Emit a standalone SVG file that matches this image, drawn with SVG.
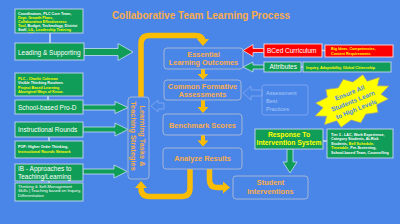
<svg xmlns="http://www.w3.org/2000/svg" width="400" height="224" viewBox="0 0 400 224">
<style>
text{font-family:"Liberation Sans",Arial,sans-serif}
.gbox{fill:#0f9d58;stroke:#b9cdeb;stroke-width:1}
.rbox{fill:#ff0000;stroke:#f4cccc;stroke-width:1}
.cbox{fill:none;stroke:#a3b5d3;stroke-width:1}
.ot{font-weight:bold;font-size:7.4px;fill:#fbad4c;text-anchor:middle}
.lbl{font-size:6.5px;fill:#fff}
.det{font-weight:bold;font-size:3.7px;fill:#fff}
.y{fill:#ffff00}
.w{fill:#fff}
.loop{fill:none;stroke:#fbbc04;stroke-width:5.5}
.oh{fill:#fbbc04}
.ga{fill:#0f9d58;stroke:#c9dcf5;stroke-width:0.8}
.ra{fill:#ff0000;stroke:#fde0e0;stroke-width:0.8}
.link{stroke:#cfe2f3;stroke-width:1.5}
.faint{fill:none;stroke:#86aaf0;stroke-width:0.8}
</style>
<rect width="400" height="224" fill="#4a86e8"/>
<text x="201" y="19" font-size="10" font-weight="bold" fill="#fbad4c" text-anchor="middle">Collaborative Team Learning Process</text>

<g id="connectors">
  <line class="link" x1="50" y1="33" x2="50" y2="43"/>
  <line class="link" x1="48" y1="96" x2="48" y2="100"/>
  <line class="link" x1="49" y1="137" x2="49" y2="141"/>
  <line class="link" x1="49" y1="181" x2="49" y2="183"/>
  <line class="link" x1="322" y1="50.5" x2="325" y2="50.5"/>
  <line class="link" x1="301" y1="67" x2="303" y2="67"/>
  <line class="link" x1="323" y1="141" x2="327" y2="141"/>
  <polygon class="ga" points="84,48.5 118,48.5 118,43.5 133,52 118,60.5 118,55.5 84,55.5"/>
  <polygon class="ga" points="83,105 115,105 115,101.5 128,107.5 115,113.5 115,110 83,110"/>
  <polygon class="ga" points="83,127 115,127 115,123 128,129.5 115,136 115,132 83,132"/>
  <polygon class="ga" points="83,169 114,169 114,165 127,171.5 114,178 114,174 83,174"/>
  <polygon class="ga" points="287,149 293,149 293,162 297,162 290,173 283,162 287,162"/>
  <polygon class="ra" points="264,48.5 253,48.5 253,44.5 243,50.5 253,56.5 253,52.5 264,52.5"/>
  <polygon class="ga" points="264,65 253,65 253,62 243,67 253,72 253,69 264,69"/>
  <polygon class="faint" points="262,90 251,90 251,86 243,93 251,100 251,96 262,96"/>
  <polygon class="faint" points="164,103 158,103 158,100 151,106 158,112 158,109 164,109"/>
  <path class="loop" d="M141,97 V44 Q141,35.5 149.5,35.5 H195 Q203,35.5 203,42"/>
  <polygon class="oh" points="197,39 209,39 203,46"/>
  <polygon class="oh" points="201,69 205,69 205,74 208.5,74 203,79.5 197.5,74 201,74"/>
  <polygon class="oh" points="201,100 205,100 205,107 208.5,107 203,113 197.5,107 201,107"/>
  <polygon class="oh" points="201,135 205,135 205,140.5 208.5,140.5 203,146.5 197.5,140.5 201,140.5"/>
  <path class="loop" d="M190,169 V188 Q190,196.5 181.5,196.5 H149.5 Q141,196.5 141,188 V187"/>
  <polygon class="oh" points="135,188 147,188 141,181"/>
  <path class="loop" d="M209.5,169 V180 Q209.5,187.5 217,187.5 H224"/>
  <polygon class="oh" points="223,181.5 223,193.5 230,187.5"/>
</g>

<g id="n-leadership-detail">
  <rect class="gbox" x="15" y="9" width="68" height="24"/>
  <text class="det" x="18" y="14.5">Coordinators, PLC Core Team,</text>
  <text class="det y" x="18" y="18.7">Dept. Growth Plans,</text>
  <text class="det y" x="18" y="22.9">Collaboration Effectiveness</text>
  <text class="det" x="18" y="27.1"><tspan class="y">Tool,</tspan> Budget, Technology, District</text>
  <text class="det" x="18" y="31.3">Staff, <tspan class="y" text-decoration="underline">LIL</tspan>, <tspan class="y">Leadership Training</tspan></text>
</g>
<g id="n-leading">
  <rect class="gbox" x="15" y="43" width="69" height="17"/>
  <text class="lbl" x="18" y="54.5">Leading &amp; Supporting</text>
</g>
<g id="n-prod-detail">
  <rect class="gbox" x="15" y="73" width="68" height="23"/>
  <text class="det y" x="18" y="80" font-size="3.8">PLC - Charlie Coleman</text>
  <text class="det" x="18" y="84.4" font-size="3.8">Visible Thinking Routines</text>
  <text class="det y" x="18" y="88.8" font-size="3.8">Project Based Learning</text>
  <text class="det y" x="18" y="93.2" font-size="3.8">Aboriginal Ways of Know.</text>
</g>
<g id="n-prod">
  <rect class="gbox" x="15" y="100" width="68" height="14"/>
  <text class="lbl" x="18" y="109.5">School-based Pro-D</text>
</g>
<g id="n-rounds">
  <rect class="gbox" x="15" y="122" width="68" height="15"/>
  <text class="lbl" x="18" y="132.3" font-size="6.8">Instructional Rounds</text>
</g>
<g id="n-rounds-detail">
  <rect class="gbox" x="15" y="141" width="68" height="17"/>
  <text class="det" x="18" y="147.5" font-size="4.3">POP: Higher Order Thinking,</text>
  <text class="det y" x="18" y="152.7" font-size="4.3">Instructional Rounds Network</text>
</g>
<g id="n-ib">
  <rect class="gbox" x="15" y="164" width="68" height="17"/>
  <text class="lbl" x="18" y="171.3" font-size="5.8">IB - Approaches to</text>
  <text class="lbl" x="18" y="178.6" font-size="5.8">Teaching/Learning</text>
</g>
<g id="n-ib-detail">
  <rect class="gbox" x="15" y="183" width="68" height="18"/>
  <text x="18" y="188" font-size="4.2" fill="#fff">Thinking &amp; Self-Management</text>
  <text x="18" y="192.4" font-size="4.2" fill="#fff">Skills | Teaching based on Inquiry,</text>
  <text x="18" y="196.8" font-size="4.2" fill="#fff">Differentiation</text>
</g>

<g id="n-learning-tasks">
  <rect class="cbox" x="128" y="97" width="21" height="82" rx="3"/>
  <text class="ot" transform="translate(139.5,136) rotate(90)"><tspan x="0" y="0">Learning Tasks &amp;</tspan><tspan x="0" y="8.5">Teaching Strategies</tspan></text>
</g>
<g id="n-essential">
  <rect class="cbox" x="164" y="48" width="79" height="21" rx="3"/>
  <text class="ot" x="203.5" y="56.5">Essential</text>
  <text class="ot" x="203.5" y="64.5">Learning Outcomes</text>
</g>
<g id="n-common">
  <rect class="cbox" x="164" y="80" width="77" height="20" rx="3"/>
  <text class="ot" x="202.5" y="89">Common Formative</text>
  <text class="ot" x="202.5" y="97">Assessments</text>
</g>
<g id="n-benchmark">
  <rect class="cbox" x="163" y="114" width="79" height="21" rx="3"/>
  <text class="ot" x="202.5" y="127.5">Benchmark Scores</text>
</g>
<g id="n-analyze">
  <rect class="cbox" x="163" y="148" width="79" height="21" rx="3"/>
  <text class="ot" x="202.5" y="161">Analyze Results</text>
</g>
<g id="n-student">
  <rect class="cbox" x="233" y="176" width="75" height="23" rx="3"/>
  <text class="ot" x="270.5" y="185">Student</text>
  <text class="ot" x="270.5" y="194">Interventions</text>
</g>
<g id="n-assessment">
  <rect x="262" y="85" width="46" height="30" rx="2" fill="none" stroke="#86aaf0" stroke-width="0.8"/>
  <text x="266" y="94.5" font-size="5.6" fill="#a9c7f7">Assessment</text>
  <text x="266" y="102.5" font-size="5.6" fill="#a9c7f7">Best</text>
  <text x="266" y="110.5" font-size="5.6" fill="#a9c7f7">Practices</text>
</g>
<g id="n-bced">
  <rect class="rbox" x="264" y="44" width="58" height="13"/>
  <text class="lbl" x="267" y="53" font-size="6.5">BCed Curriculum</text>
</g>
<g id="n-bced-detail">
  <rect class="rbox" x="325" y="45" width="68" height="12"/>
  <text class="det y" x="331" y="50.3" font-size="4.3">Big Ideas, Competencies,</text>
  <text class="det y" x="331" y="55" font-size="4.3">Content Requirements</text>
</g>
<g id="n-attributes">
  <rect class="gbox" x="264" y="62" width="37" height="10"/>
  <text class="lbl" x="269.5" y="69" font-size="5.9">Attributes</text>
</g>
<g id="n-attributes-detail">
  <rect class="gbox" x="303" y="62" width="88" height="10"/>
  <text class="det y" x="306" y="68.6" font-size="4.4">Inquiry, Adaptability, Global Citizenship</text>
</g>
<g id="n-starburst">
  <polygon transform="translate(352,101) rotate(-22) scale(1.05,0.62)" vector-effect="non-scaling-stroke" fill="#ffff00" stroke="#999" stroke-width="0.8" points="38,0 28,7.5 32.9,19 20.5,20.5 19,32.9 7.5,28 0,38 -7.5,28 -19,32.9 -20.5,20.5 -32.9,19 -28,7.5 -38,0 -28,-7.5 -32.9,-19 -20.5,-20.5 -19,-32.9 -7.5,-28 0,-38 7.5,-28 19,-32.9 20.5,-20.5 32.9,-19 28,-7.5"/>
  <g transform="translate(353,101) rotate(-22)" font-weight="bold" font-size="6.4" fill="#4a86e8" text-anchor="middle">
    <text x="0" y="-6.5">Ensure All</text>
    <text x="0" y="2.3">Students Learn</text>
    <text x="0" y="11.1">to High Levels</text>
  </g>
</g>
<g id="n-rti">
  <rect class="gbox" x="255" y="129" width="68" height="20"/>
  <text x="289" y="137" font-size="6.8" font-weight="bold" fill="#ffff00" text-anchor="middle">Response To</text>
  <text x="289" y="144.8" font-size="6.8" font-weight="bold" fill="#ffff00" text-anchor="middle">Intervention System</text>
</g>
<g id="n-rti-detail">
  <rect class="gbox" x="327" y="129" width="66" height="29"/>
  <text class="det" x="331" y="135.5" font-size="3.65">Tier 3 - LAC, Work Experience,</text>
  <text class="det" x="331" y="140" font-size="3.65">Category Students, At-Risk</text>
  <text class="det" x="331" y="144.5" font-size="3.65">Students, <tspan class="y">Bell Schedule,</tspan></text>
  <text class="det" x="331" y="149" font-size="3.65"><tspan class="y">Timetable</tspan>, Pre-Screening,</text>
  <text class="det" x="331" y="153.5" font-size="3.65">School-based Team, Counselling</text>
</g>
</svg>
